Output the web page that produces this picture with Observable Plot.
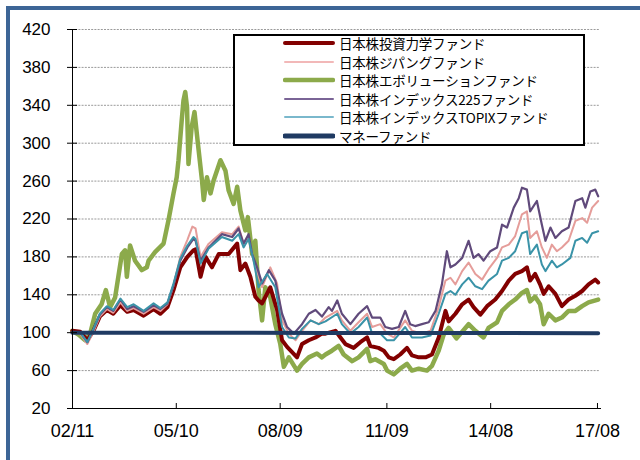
<!DOCTYPE html>
<html><head><meta charset="utf-8">
<script src="https://cdn.jsdelivr.net/npm/d3@7"></script>
<script src="https://cdn.jsdelivr.net/npm/@observablehq/plot@0.6"></script>
<style>
body{margin:0;background:#fff;}
#wrap{position:relative;width:640px;height:460px;overflow:hidden;font-family:"Liberation Sans",Arial,sans-serif;}
#frame{position:absolute;left:6px;top:6px;width:700px;height:500px;border-left:4px solid #3d6596;border-top:4px solid #3d6596;}
#chart{position:absolute;left:0;top:0;}
#legend{position:absolute;left:233px;top:34px;width:348px;height:108px;border:2px solid #000;background:#fff;}
.row{position:absolute;left:0;height:19px;display:flex;align-items:center;}
.row svg{margin-left:48px;width:52px;height:10px;}
.row span{margin-left:4px;font-family:"Noto Sans CJK JP",sans-serif;font-size:13.5px;color:#000;white-space:nowrap;letter-spacing:-0.2px;}
</style></head>
<body>
<div id="wrap"><div id="frame"></div><div id="chart"></div><div id="legend"></div></div>
<script>
const seriesNames = ["日本株投資力学ファンド","日本株ジパングファンド","日本株エボリューションファンド","日本株インデックス225ファンド","日本株インデックスTOPIXファンド","マネーファンド"];
const yTicks = [20,60,100,140,180,220,260,300,340,380,420];
const xTickLabels = ["02/11","05/10","08/09","11/09","14/08","17/08"];

// [decimal year, value]
const rikigaku = [[2002.83,102],[2003.05,101],[2003.25,92],[2003.42,102],[2003.60,117],[2003.80,124],[2003.98,120],[2004.18,129],[2004.37,122],[2004.55,124],[2004.83,118],[2005.11,125],[2005.30,120],[2005.50,127],[2005.67,145],[2005.86,169],[2006.06,180],[2006.23,187],[2006.29,188],[2006.43,159],[2006.57,180],[2006.75,169],[2006.94,183],[2007.22,183],[2007.46,194],[2007.55,166],[2007.69,173],[2007.83,159],[2007.97,138],[2008.06,134],[2008.16,131],[2008.39,148],[2008.58,124],[2008.72,92],[2008.86,85],[2009.14,74],[2009.28,88],[2009.47,92],[2009.66,95],[2009.84,99],[2009.94,99],[2010.22,102],[2010.36,95],[2010.50,88],[2010.73,84],[2010.92,90],[2011.11,95],[2011.20,86],[2011.43,84],[2011.58,81],[2011.72,74],[2011.86,72],[2012.04,77],[2012.23,84],[2012.37,76],[2012.56,74],[2012.75,74],[2012.93,77],[2013.12,95],[2013.31,123],[2013.40,112],[2013.59,120],[2013.78,130],[2013.96,135],[2014.10,127],[2014.29,119],[2014.48,128],[2014.71,135],[2014.90,144],[2015.09,155],[2015.27,162],[2015.46,165],[2015.60,169],[2015.69,155],[2015.83,162],[2015.97,151],[2016.07,141],[2016.21,149],[2016.40,141],[2016.58,128],[2016.77,135],[2016.96,139],[2017.15,144],[2017.33,151],[2017.52,156],[2017.60,153]];
const zipang = [[2002.83,100],[2003.05,99],[2003.25,88],[2003.42,101],[2003.60,117],[2003.80,125],[2003.98,121],[2004.18,132],[2004.37,123],[2004.55,126],[2004.83,120],[2005.11,127],[2005.30,123],[2005.50,130],[2005.67,150],[2005.86,180],[2006.06,198],[2006.20,212],[2006.29,210],[2006.43,180],[2006.66,194],[2007.03,206],[2007.32,204],[2007.50,212],[2007.64,194],[2007.78,201],[2007.92,176],[2008.16,148],[2008.39,169],[2008.58,152],[2008.72,113],[2008.91,99],[2009.10,92],[2009.28,102],[2009.52,113],[2009.75,109],[2009.94,116],[2010.27,123],[2010.40,113],[2010.64,102],[2010.87,111],[2011.11,120],[2011.25,106],[2011.48,109],[2011.67,99],[2011.86,95],[2012.18,113],[2012.37,102],[2012.65,99],[2012.89,102],[2013.12,127],[2013.31,155],[2013.45,158],[2013.59,151],[2013.78,165],[2013.96,174],[2014.15,162],[2014.34,156],[2014.52,167],[2014.76,179],[2014.90,190],[2015.09,193],[2015.27,202],[2015.46,225],[2015.60,228],[2015.69,200],[2015.88,207],[2016.02,190],[2016.16,179],[2016.30,193],[2016.44,186],[2016.58,190],[2016.77,197],[2016.96,218],[2017.15,221],[2017.29,216],[2017.43,232],[2017.60,239]];
const evolution = [[2002.83,102],[2003.00,98],[2003.19,92],[2003.33,99],[2003.47,120],[2003.65,130],[2003.77,145],[2003.89,127],[2004.03,137],[2004.22,183],[2004.31,187],[2004.36,159],[2004.45,192],[2004.59,176],[2004.78,166],[2004.92,169],[2004.97,176],[2005.15,185],[2005.39,194],[2005.53,219],[2005.67,247],[2005.76,264],[2005.81,282],[2005.90,324],[2005.95,345],[2006.00,354],[2006.05,338],[2006.09,278],[2006.18,317],[2006.26,333],[2006.36,298],[2006.47,261],[2006.52,240],[2006.61,264],[2006.71,247],[2006.80,261],[2006.99,282],[2007.13,271],[2007.22,250],[2007.36,236],[2007.46,254],[2007.55,229],[2007.69,208],[2007.76,222],[2007.88,183],[2007.97,197],[2008.06,145],[2008.16,113],[2008.25,148],[2008.39,137],[2008.53,109],[2008.67,88],[2008.77,64],[2008.91,74],[2009.14,60],[2009.28,67],[2009.47,74],[2009.70,78],[2009.84,74],[2009.94,77],[2010.12,81],[2010.31,86],[2010.45,77],[2010.69,70],[2010.87,74],[2011.11,83],[2011.20,70],[2011.34,72],[2011.58,67],[2011.67,60],[2011.86,56],[2012.04,62],[2012.23,67],[2012.37,60],[2012.56,62],[2012.79,60],[2012.93,65],[2013.12,81],[2013.26,98],[2013.40,105],[2013.50,100],[2013.62,94],[2013.96,109],[2014.15,102],[2014.38,95],[2014.52,105],[2014.76,111],[2014.90,123],[2015.09,130],[2015.27,135],[2015.46,142],[2015.60,145],[2015.69,133],[2015.83,138],[2015.97,130],[2016.07,109],[2016.21,120],[2016.40,113],[2016.58,116],[2016.77,123],[2016.96,123],[2017.15,128],[2017.33,132],[2017.60,135]];
const index225 = [[2002.83,100],[2003.05,100],[2003.25,90],[2003.42,103],[2003.60,119],[2003.80,127],[2003.98,123],[2004.18,135],[2004.37,125],[2004.55,128],[2004.83,122],[2005.11,129],[2005.30,125],[2005.50,131],[2005.67,150],[2005.86,176],[2006.06,190],[2006.23,199],[2006.29,197],[2006.43,176],[2006.66,190],[2007.03,204],[2007.32,201],[2007.50,210],[2007.64,194],[2007.78,204],[2007.88,183],[2008.02,169],[2008.16,152],[2008.35,166],[2008.53,155],[2008.72,120],[2008.86,106],[2009.05,99],[2009.28,109],[2009.47,120],[2009.66,124],[2009.84,117],[2010.03,127],[2010.12,123],[2010.27,134],[2010.40,120],[2010.64,109],[2010.87,120],[2011.11,128],[2011.25,116],[2011.48,116],[2011.62,106],[2011.81,104],[2012.00,106],[2012.18,123],[2012.32,109],[2012.46,107],[2012.65,109],[2012.84,111],[2013.03,123],[2013.21,151],[2013.35,186],[2013.45,169],[2013.59,172],[2013.78,179],[2013.96,197],[2014.10,179],[2014.24,183],[2014.38,176],[2014.57,186],[2014.76,190],[2014.90,214],[2015.04,211],[2015.23,232],[2015.37,242],[2015.46,253],[2015.60,251],[2015.69,228],[2015.88,239],[2016.02,214],[2016.12,197],[2016.26,211],[2016.40,200],[2016.58,207],[2016.77,211],[2016.96,239],[2017.15,242],[2017.24,232],[2017.38,249],[2017.52,251],[2017.60,244]];
const topix = [[2002.83,100],[2003.05,100],[2003.25,90],[2003.42,104],[2003.60,120],[2003.80,128],[2003.98,124],[2004.18,136],[2004.37,127],[2004.55,130],[2004.83,123],[2005.11,131],[2005.30,126],[2005.50,132],[2005.67,152],[2005.86,178],[2006.06,192],[2006.23,201],[2006.29,199],[2006.43,173],[2006.66,189],[2007.03,201],[2007.32,197],[2007.50,204],[2007.64,190],[2007.78,199],[2007.92,176],[2008.06,148],[2008.30,162],[2008.53,148],[2008.72,106],[2008.91,95],[2009.10,94],[2009.28,104],[2009.52,113],[2009.75,109],[2009.94,112],[2010.27,120],[2010.40,109],[2010.64,99],[2010.87,106],[2011.11,116],[2011.25,99],[2011.48,99],[2011.67,92],[2011.86,92],[2012.18,106],[2012.37,95],[2012.65,95],[2012.89,97],[2013.12,120],[2013.31,141],[2013.45,144],[2013.59,140],[2013.78,151],[2013.96,158],[2014.15,149],[2014.34,146],[2014.52,155],[2014.76,162],[2014.90,176],[2015.09,179],[2015.27,186],[2015.46,205],[2015.60,207],[2015.69,183],[2015.88,193],[2016.02,172],[2016.12,165],[2016.30,176],[2016.44,169],[2016.58,172],[2016.82,179],[2016.96,197],[2017.15,200],[2017.29,195],[2017.43,205],[2017.60,207]];
const money = [[2002.83,100],[2006.00,100],[2010.00,99.8],[2014.00,99.6],[2017.60,99.5]];

const colors = ["#820000","#e59d9a","#8caa4b","#604a7b","#3a93a8","#1f3a62"];
const legendColors = ["#820000","#f2b8b8","#8caa4b","#7a6496","#7ab8cc","#1f3a62"];
const widths = [4,2,4.5,2.2,2,4];
const legendWidths = [4,2,4.5,2,2,5];

function toDate(y){const yr=Math.floor(y);const s=new Date(yr,0,1).getTime(),e=new Date(yr+1,0,1).getTime();return new Date(s+(y-yr)*(e-s));}
function parseTick(t){const [yy,mm]=t.split("/");return new Date(2000+ +yy, +mm-1, 1);}
const xTicks = xTickLabels.map(parseTick);

const all = [rikigaku,zipang,evolution,index225,topix,money];
const rows = [];
all.forEach((s,i)=>s.forEach(([y,v])=>rows.push({date:toDate(y),value:v,fund:seriesNames[i]})));
const drawOrder = [2,0,1,3,4,5];

const chart = Plot.plot({
  width:640,height:460,
  marginLeft:72,marginRight:40,marginTop:29,marginBottom:52,
  style:{fontFamily:"'Liberation Sans',Arial,sans-serif",background:"transparent",color:"#000"},
  x:{type:"time",domain:[new Date(2002,10,1),new Date(2017,8,1)]},
  y:{domain:[20,420]},
  marks:[
    Plot.gridY(yTicks.filter(t=>t>20),{stroke:"#9a9a9a",strokeOpacity:1,strokeDasharray:"2,1.2"}),
    ...drawOrder.map(i=>Plot.line(rows.filter(r=>r.fund===seriesNames[i]),{x:"date",y:"value",stroke:colors[i],strokeWidth:widths[i],strokeLinejoin:"round",strokeLinecap:"round"})),
    Plot.frame({anchor:"left",stroke:"#000"}),
    Plot.frame({anchor:"bottom",stroke:"#000"}),
    Plot.axisY({ticks:yTicks,tickSize:10,dx:5,tickPadding:17,fontSize:17,label:null}),
    Plot.axisX({ticks:xTicks,tickSize:-5,tickFormat:()=>"",label:null}),
    Plot.axisX({ticks:xTicks,tickSize:0,tickPadding:16,fontSize:18,tickFormat:(d)=>xTickLabels[xTicks.findIndex(t=>+t===+d)],label:null})
  ]
});
document.getElementById("chart").appendChild(chart);

const leg = document.getElementById("legend");
seriesNames.forEach((n,i)=>{
  const r=document.createElement("div");r.className="row";
  r.style.top=(-2.5+i*18.6)+"px";
  r.innerHTML=`<svg viewBox="0 0 52 10"><line x1="2" x2="50" y1="5" y2="5" stroke="${legendColors[i]}" stroke-width="${legendWidths[i]}" stroke-linecap="round"/></svg><span>${n}</span>`;
  leg.appendChild(r);
});
</script>
</body></html>
